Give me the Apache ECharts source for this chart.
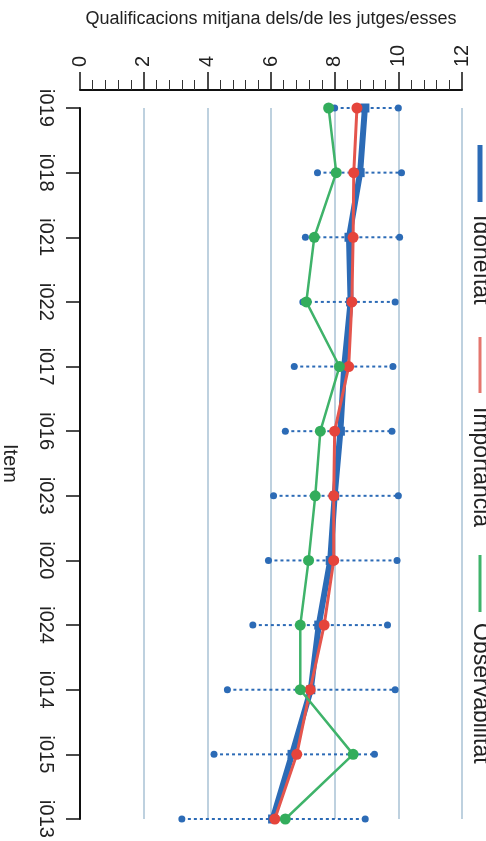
<!DOCTYPE html>
<html>
<head>
<meta charset="utf-8">
<script src="https://cdn.jsdelivr.net/npm/echarts@6/dist/echarts.min.js"></script>
<style>
html,body{margin:0;padding:0;background:#fff;}
#chart{width:486px;height:841px;}
</style>
</head>
<body>
<div id="chart"></div>
<script>
const categories = ['i019','i018','i021','i022','i017','i016','i023','i020','i024','i014','i015','i013'];
const idoneitat = [8.95, 8.8, 8.45, 8.5, 8.3, 8.18, 8.0, 7.86, 7.5, 7.25, 6.66, 6.05];
const importancia = [8.7, 8.6, 8.58, 8.54, 8.44, 8.0, 7.97, 7.97, 7.67, 7.23, 6.81, 6.12];
const observabilitat = [7.81, 8.05, 7.36, 7.11, 8.15, 7.55, 7.39, 7.18, 6.92, 6.92, 8.58, 6.45];
const errMin = [8.0, 7.46, 7.08, 7.0, 6.73, 6.45, 6.08, 5.92, 5.43, 4.63, 4.21, 3.2];
const errMax = [10.0, 10.1, 10.04, 9.9, 9.83, 9.8, 10.0, 9.96, 9.66, 9.9, 9.25, 8.96];
const seriesNames = ['Idoneïtat', 'Importància', 'Observabilitat'];
const xTitle = 'Qualificacions mitjana dels/de les jutges/esses';
const yTitle = 'Item';

const BLUE = '#2c6bb6', RED = '#e5443b', GREEN = '#3fb36a';
const FONT = 'Liberation Sans, Arial, Helvetica, sans-serif';
const TXT = '#222';

const pairs = arr => arr.map((v, i) => [v, categories[i]]);
const errData = categories.map((c, i) => [i, errMin[i], errMax[i]]);

const chart = echarts.init(document.getElementById('chart'), null, {renderer: 'canvas'});
chart.setOption({
  backgroundColor: '#ffffff',
  animation: false,
  textStyle: {fontFamily: FONT},
  grid: {left: 80, right: 24, top: 108, bottom: 22, containLabel: false, outerBoundsMode: 'none'},
  xAxis: {
    type: 'value', position: 'top', min: 0, max: 12, interval: 2, offset: 18,
    name: xTitle, nameLocation: 'middle', nameGap: 62,
    nameTextStyle: {fontSize: 18, color: TXT, fontFamily: FONT},
    axisLine: {show: true, lineStyle: {color: '#111', width: 2}},
    axisTick: {show: true, length: 18, lineStyle: {color: '#111', width: 1.5}},
    minorTick: {show: true, splitNumber: 5, length: 10, lineStyle: {color: '#333', width: 1}},
    axisLabel: {rotate: -90, margin: 23, fontSize: 20, color: TXT, fontFamily: FONT},
    splitLine: {show: true, lineStyle: {color: '#a9c2d5', width: 1.5}},
    minorSplitLine: {show: false}
  },
  yAxis: {
    type: 'category', inverse: true, boundaryGap: false, data: categories,
    name: yTitle, nameLocation: 'middle', nameGap: 60, nameRotate: -90,
    nameTextStyle: {fontSize: 20, color: TXT, fontFamily: FONT},
    axisLine: {show: true, lineStyle: {color: '#111', width: 2}},
    axisTick: {show: true, length: 14, lineStyle: {color: '#111', width: 1.5}},
    axisLabel: {rotate: -90, margin: 24, fontSize: 20, color: TXT, fontFamily: FONT},
    splitLine: {show: false}
  },
  series: [
    {
      type: 'custom', name: 'range', z: 1,
      encode: {x: [1, 2], y: 0},
      data: errData,
      renderItem: function (params, api) {
        const yi = api.value(0);
        const a = api.coord([api.value(1), yi]);
        const b = api.coord([api.value(2), yi]);
        return {
          type: 'group',
          children: [
            {type: 'line', shape: {x1: a[0], y1: a[1], x2: b[0], y2: b[1]},
             style: {stroke: BLUE, lineWidth: 2, lineDash: [3, 3]}},
            {type: 'circle', shape: {cx: a[0], cy: a[1], r: 3.5}, style: {fill: BLUE}},
            {type: 'circle', shape: {cx: b[0], cy: b[1], r: 3.5}, style: {fill: BLUE}}
          ]
        };
      }
    },
    {
      type: 'line', name: seriesNames[0], z: 2, data: pairs(idoneitat),
      lineStyle: {color: BLUE, width: 6}, itemStyle: {color: BLUE},
      symbol: 'rect', symbolSize: 9, showSymbol: true
    },
    {
      type: 'line', name: seriesNames[1], z: 3, data: pairs(importancia),
      lineStyle: {color: '#e4554d', width: 3}, itemStyle: {color: RED},
      symbol: 'circle', symbolSize: 11, showSymbol: true
    },
    {
      type: 'line', name: seriesNames[2], z: 4, data: pairs(observabilitat),
      lineStyle: {color: GREEN, width: 2.5}, itemStyle: {color: '#33ad5c'},
      symbol: 'circle', symbolSize: 11, showSymbol: true
    }
  ],
  graphic: [{
    type: 'group', x: 480, y: 145, rotation: -Math.PI / 2,
    children: [
      {type: 'line', shape: {x1: 0, y1: 0, x2: 57, y2: 0}, style: {stroke: BLUE, lineWidth: 5}},
      {type: 'text', x: 70, y: 0, style: {text: seriesNames[0], fontSize: 23, fontFamily: FONT, fill: TXT, verticalAlign: 'middle', align: 'left'}},
      {type: 'line', shape: {x1: 192, y1: 0, x2: 248, y2: 0}, style: {stroke: '#e4766e', lineWidth: 3}},
      {type: 'text', x: 262, y: 0, style: {text: seriesNames[1], fontSize: 23, fontFamily: FONT, fill: TXT, verticalAlign: 'middle', align: 'left'}},
      {type: 'line', shape: {x1: 410, y1: 0, x2: 467, y2: 0}, style: {stroke: GREEN, lineWidth: 3}},
      {type: 'text', x: 478, y: 0, style: {text: seriesNames[2], fontSize: 23, fontFamily: FONT, fill: TXT, verticalAlign: 'middle', align: 'left'}}
    ]
  }]
});
</script>
</body>
</html>
